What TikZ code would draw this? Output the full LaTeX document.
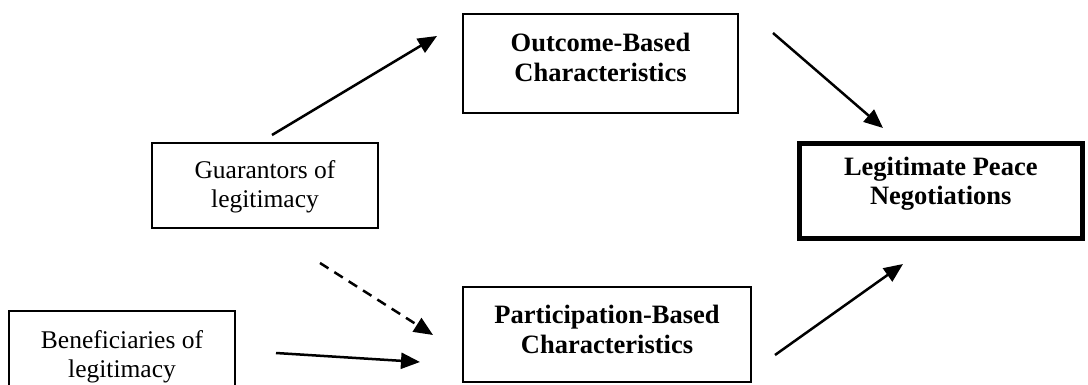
\documentclass[tikz,border=0pt]{standalone}
\usepackage{fontspec}
\setmainfont{Liberation Serif}
\usetikzlibrary{arrows.meta}
\begin{document}
\begin{tikzpicture}[x=1pt,y=-1pt,
  box/.style={draw, line width=1.3pt, inner sep=0pt, rectangle},
  thickbox/.style={draw, line width=5pt, inner sep=0pt, rectangle},
  txt/.style={align=center, inner sep=0pt, font=\fontsize{25.5}{29}\selectfont},
  btxt/.style={align=center, inner sep=0pt, font=\fontsize{26.5}{29.5}\selectfont\bfseries},
  arr/.style={line width=2.5pt, -{Triangle[length=19pt,width=16pt]}},
  dasharr/.style={arr, dash pattern=on 10pt off 7pt},
]
\useasboundingbox (0,0) rectangle (1088,385);
\clip (0,0) rectangle (1088,385);

% boxes
\node[box, minimum width=275pt, minimum height=99pt] (outbox) at (600.5,63.5) {};
\node[btxt] (outtxt) at (600.5,57.5) {Outcome-Based\\Characteristics};

\node[box, minimum width=288pt, minimum height=95pt] (parbox) at (607,334.5) {};
\node[btxt] (partxt) at (607,329.5) {Participation-Based\\Characteristics};

\node[box, minimum width=226pt, minimum height=85pt] (guabox) at (265,185.5) {};
\node[txt] (guatxt) at (265,186.5) {Guarantors of\\legitimacy};

\node[box, minimum width=226pt, minimum height=109pt] (benbox) at (122,365.5) {};
\node[txt] (bentxt) at (122,356.5) {Beneficiaries of\\legitimacy};

\node[thickbox, minimum width=282.5pt, minimum height=94.5pt] (legbox) at (940.75,191.25) {};
\node[btxt] (legtxt) at (940.75,183.5) {Legitimate Peace\\Negotiations};

% connector ends
\coordinate (g1s) at (272,135);  \coordinate (g1e) at (437,36);
\coordinate (g2s) at (320,263);  \coordinate (g2e) at (433,335);
\coordinate (b1s) at (276,353);  \coordinate (b1e) at (420,362);
\coordinate (o1s) at (773,33);   \coordinate (o1e) at (883,128);
\coordinate (p1s) at (775,355);  \coordinate (p1e) at (903,264);

\draw[arr] (g1s) -- (g1e);
\draw[dasharr] (g2s) -- (g2e);
\draw[arr] (b1s) -- (b1e);
\draw[arr] (o1s) -- (o1e);
\draw[arr] (p1s) -- (p1e);
\end{tikzpicture}
\end{document}
